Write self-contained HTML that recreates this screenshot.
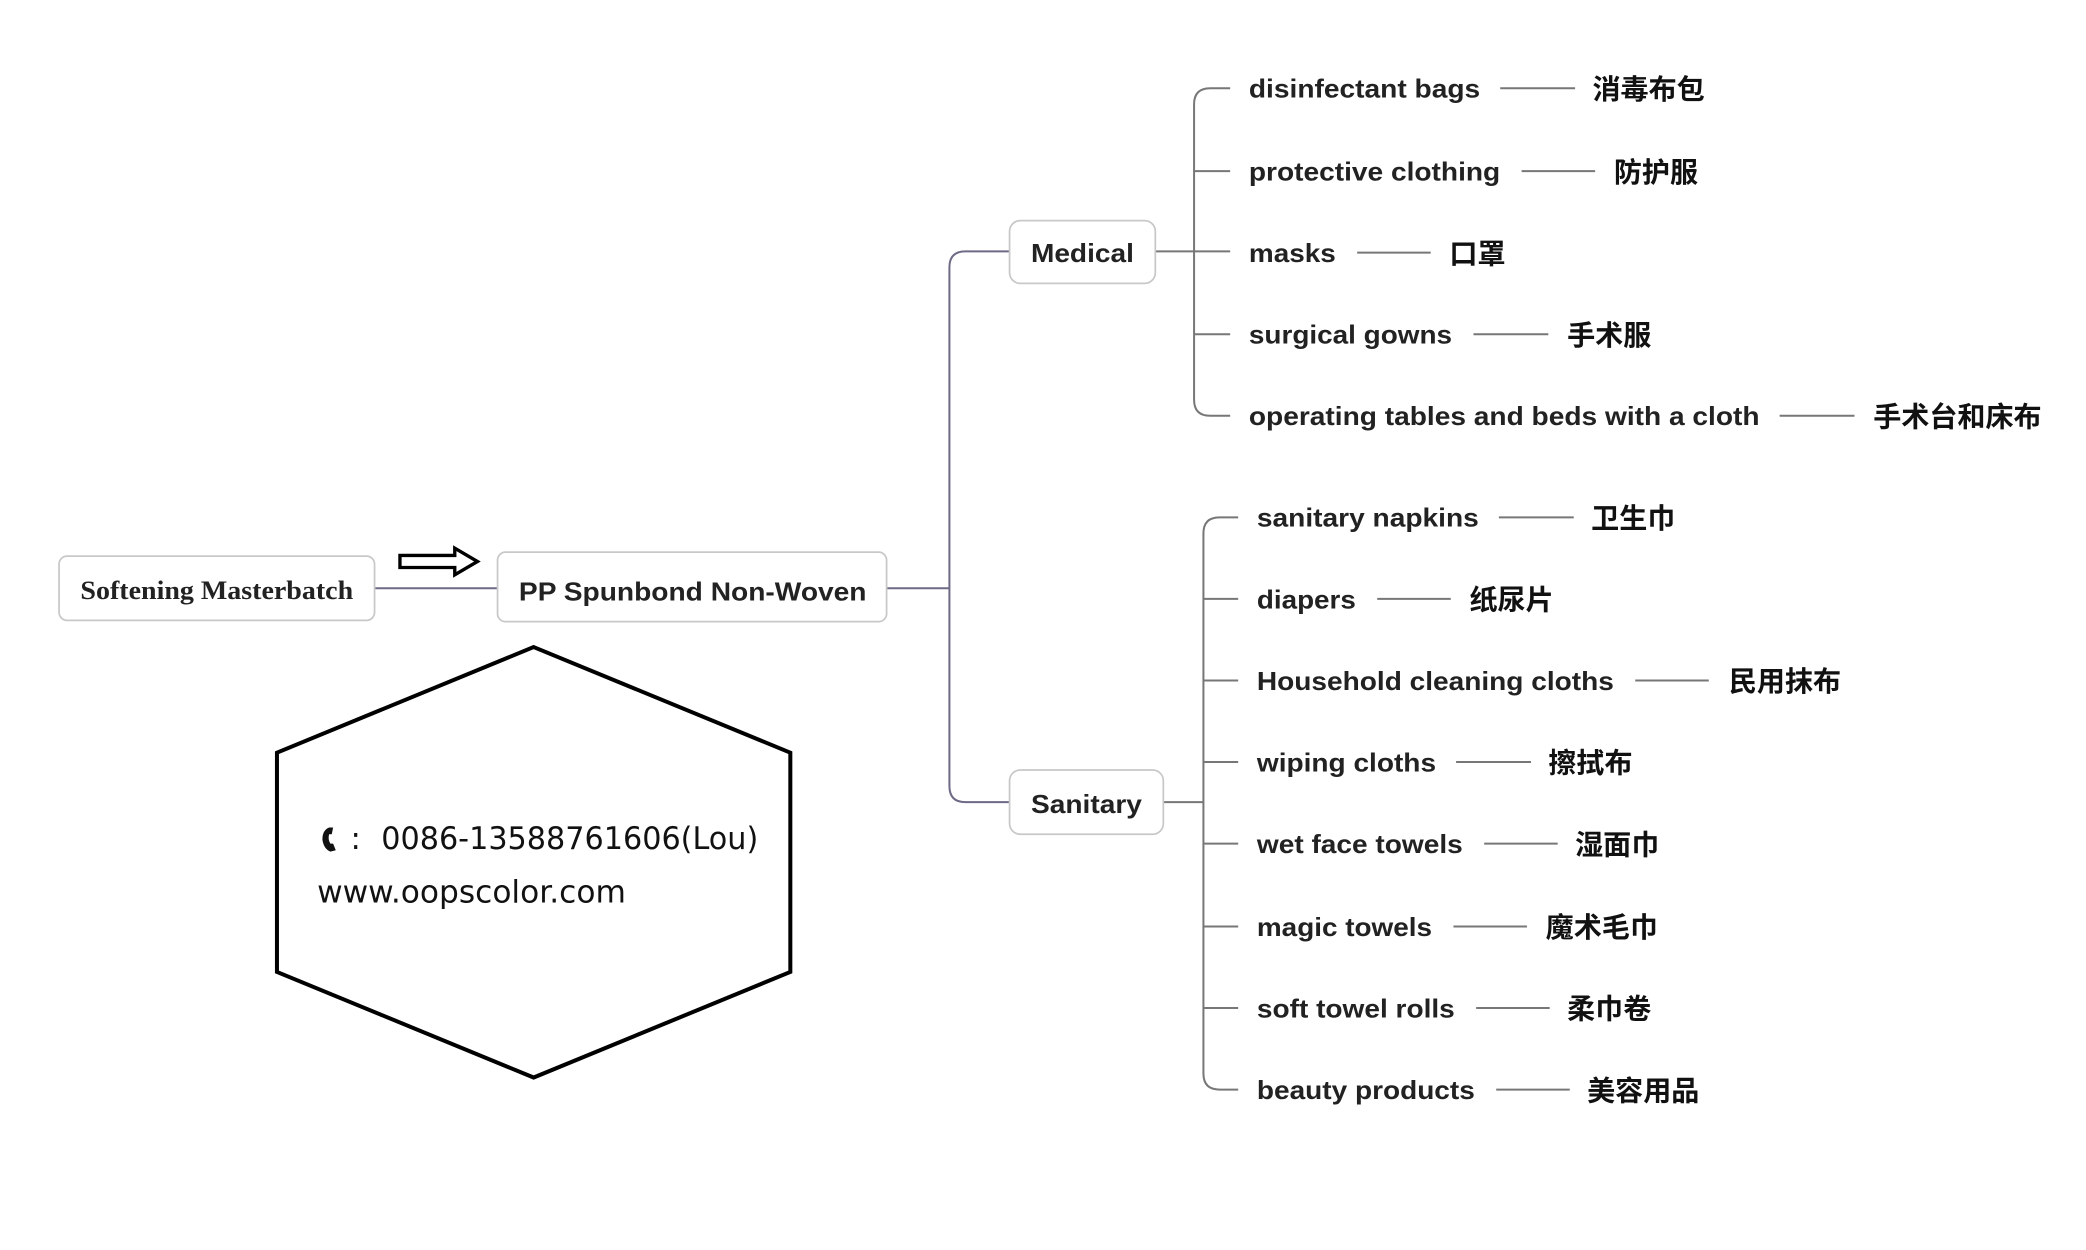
<!DOCTYPE html>
<html><head><meta charset="utf-8"><style>html,body{margin:0;padding:0;background:#fff}svg{display:block}</style></head>
<body>
<svg xmlns="http://www.w3.org/2000/svg" width="2086" height="1250" viewBox="0 0 1560 935">
<rect width="1560" height="935" fill="#fff"/>
<g fill="none" stroke="#6e6a86" stroke-width="1.5">
<path d="M280 440 H372"/>
<path d="M663 440 H710"/>
<path d="M755 188 H722 Q710 188 710 200 V588 Q710 600 722 600 H755"/>
</g>
<g fill="none" stroke="#777" stroke-width="1.5">
<path d="M864 188 H920"/>
<path d="M920 66 H905 Q893 66 893 78 V299 Q893 311 905 311 H920"/>
<path d="M893 128 H920 M893 250 H920"/>
<path d="M870 600 H900"/>
<path d="M926 387 H912 Q900 387 900 399 V803 Q900 815 912 815 H926"/>
<path d="M900 448 H926 M900 509 H926 M900 570 H926 M900 631 H926 M900 693 H926 M900 754 H926"/>
<path d="M1122 66 H1178 M1138 128 H1193 M1015 189 H1070 M1102 250 H1158 M1331 311 H1387"/>
<path d="M1121 387 H1177 M1030 448 H1085 M1223 509 H1278 M1089 570 H1145 M1110 631 H1165 M1087 693 H1142 M1104 754 H1159 M1119 815 H1174"/>
</g>
<g fill="#fff" stroke="#c8c8c8" stroke-width="1.3">
<rect x="44" y="416" width="236" height="48" rx="6"/>
<rect x="372" y="413" width="291" height="52" rx="6"/>
<rect x="755" y="165" width="109" height="47" rx="8"/>
<rect x="755" y="576" width="115" height="48" rx="8"/>
</g>
<path d="M299 415.5 H340 V410 L357 420 L340 430 V424.5 H299 Z" fill="#fff" stroke="#000" stroke-width="2.5"/>
<polygon points="399,484 591,563 591,727 399,806 207,727 207,563" fill="#fff" stroke="#000" stroke-width="3"/>
<g font-family="Liberation Sans, sans-serif" font-weight="bold" fill="#222" font-size="19.5">
<text x="60" y="448" font-family="Liberation Serif, serif" textLength="204" lengthAdjust="spacingAndGlyphs">Softening Masterbatch</text>
<text x="388" y="449" textLength="260" lengthAdjust="spacingAndGlyphs">PP Spunbond Non-Woven</text>
<text x="771" y="196" textLength="77" lengthAdjust="spacingAndGlyphs">Medical</text>
<text x="771" y="608" textLength="83" lengthAdjust="spacingAndGlyphs">Sanitary</text>
<text x="934" y="73" textLength="173" lengthAdjust="spacingAndGlyphs">disinfectant bags</text>
<text x="934" y="135" textLength="188" lengthAdjust="spacingAndGlyphs">protective clothing</text>
<text x="934" y="196" textLength="65" lengthAdjust="spacingAndGlyphs">masks</text>
<text x="934" y="257" textLength="152" lengthAdjust="spacingAndGlyphs">surgical gowns</text>
<text x="934" y="318" textLength="382" lengthAdjust="spacingAndGlyphs">operating tables and beds with a cloth</text>
<text x="940" y="394" textLength="166" lengthAdjust="spacingAndGlyphs">sanitary napkins</text>
<text x="940" y="455" textLength="74" lengthAdjust="spacingAndGlyphs">diapers</text>
<text x="940" y="516" textLength="267" lengthAdjust="spacingAndGlyphs">Household cleaning cloths</text>
<text x="940" y="577" textLength="134" lengthAdjust="spacingAndGlyphs">wiping cloths</text>
<text x="940" y="638" textLength="154" lengthAdjust="spacingAndGlyphs">wet face towels</text>
<text x="940" y="700" textLength="131" lengthAdjust="spacingAndGlyphs">magic towels</text>
<text x="940" y="761" textLength="148" lengthAdjust="spacingAndGlyphs">soft towel rolls</text>
<text x="940" y="822" textLength="163" lengthAdjust="spacingAndGlyphs">beauty products</text>
</g>
<g font-family="Liberation Sans, Noto Sans CJK SC, sans-serif" font-weight="bold" fill="#111" font-size="21">
<text x="1191" y="74">消毒布包</text>
<text x="1207" y="136">防护服</text>
<text x="1084" y="197">口罩</text>
<text x="1172" y="258">手术服</text>
<text x="1401" y="319">手术台和床布</text>
<text x="1190" y="395">卫生巾</text>
<text x="1099" y="456">纸尿片</text>
<text x="1293" y="517">民用抹布</text>
<text x="1158" y="578">擦拭布</text>
<text x="1178" y="639">湿面巾</text>
<text x="1156" y="701">魔术毛巾</text>
<text x="1172" y="762">柔巾卷</text>
<text x="1187" y="823">美容用品</text>
</g>
<path d="M246 619 Q241 621 241 628 Q242 635 247 637 L251 636 L249 631 L247 631 Q245 628 246 624 L248 624 L249 619 Z" fill="#111"/>
<g font-family="DejaVu Sans, Liberation Sans, sans-serif" fill="#111" font-size="23">
<text x="262" y="635">:</text>
<text x="285" y="635" textLength="282" lengthAdjust="spacingAndGlyphs">0086-13588761606(Lou)</text>
<text x="237" y="675" textLength="231" lengthAdjust="spacingAndGlyphs">www.oopscolor.com</text>
</g>
</svg>
</body></html>
